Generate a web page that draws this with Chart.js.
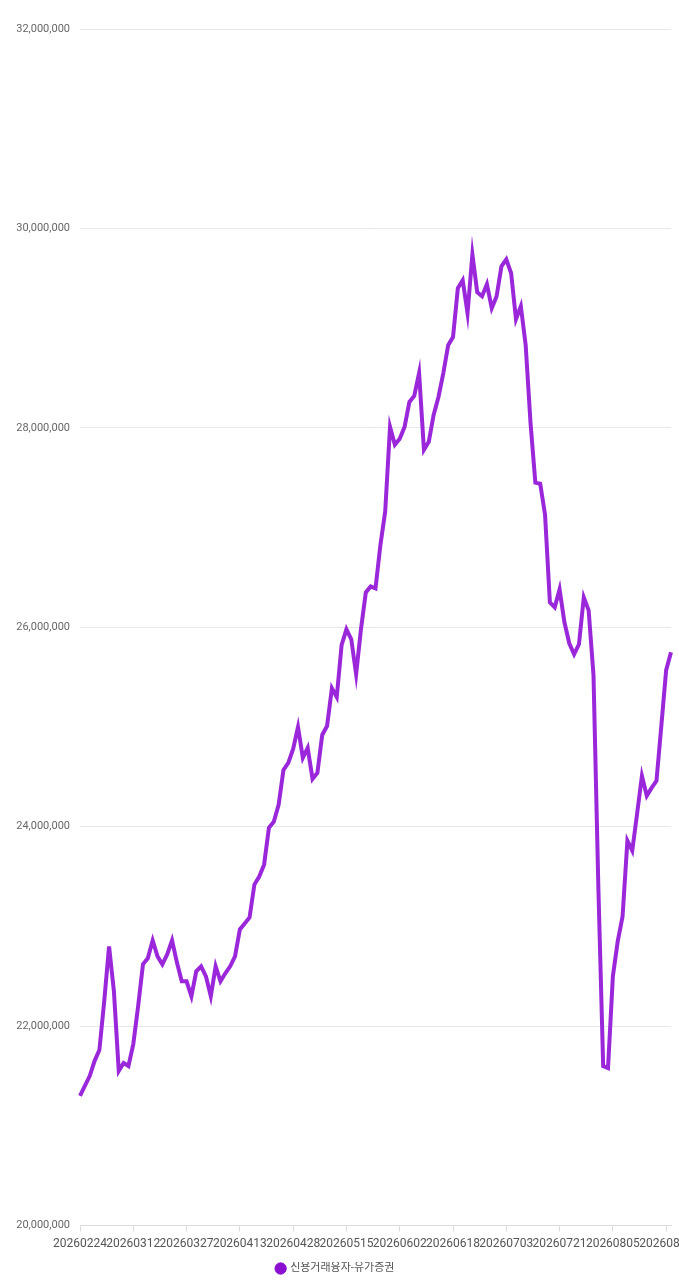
<!DOCTYPE html>
<html>
<head>
<meta charset="utf-8">
<script src="https://cdn.jsdelivr.net/npm/chart.js@4/dist/chart.umd.min.js"></script>
<style>
  html, body { margin: 0; padding: 0; background: #fff; }
  #wrap { width: 679px; height: 1280px; }
</style>
</head>
<body>
<div id="wrap"><canvas id="grafico"></canvas></div>
<script>
// 신용거래융자 - 유가증권 (일별)

const fechas = [
  '20260224', '20260225', '20260226', '20260227', '20260303', '20260304', '20260305', '20260306',
  '20260309', '20260310', '20260311', '20260312', '20260313', '20260316', '20260317', '20260318',
  '20260319', '20260320', '20260323', '20260324', '20260325', '20260326', '20260327', '20260330',
  '20260331', '20260401', '20260402', '20260403', '20260406', '20260407', '20260408', '20260409',
  '20260410', '20260413', '20260414', '20260415', '20260416', '20260417', '20260420', '20260421',
  '20260422', '20260423', '20260424', '20260427', '20260428', '20260429', '20260430', '20260504',
  '20260506', '20260507', '20260508', '20260511', '20260512', '20260513', '20260514', '20260515',
  '20260518', '20260519', '20260520', '20260521', '20260522', '20260526', '20260527', '20260528',
  '20260529', '20260601', '20260602', '20260604', '20260605', '20260608', '20260609', '20260610',
  '20260611', '20260612', '20260615', '20260616', '20260617', '20260618', '20260619', '20260622',
  '20260623', '20260624', '20260625', '20260626', '20260629', '20260630', '20260701', '20260702',
  '20260703', '20260706', '20260707', '20260708', '20260709', '20260710', '20260713', '20260714',
  '20260715', '20260716', '20260720', '20260721', '20260722', '20260723', '20260724', '20260727',
  '20260728', '20260729', '20260730', '20260731', '20260803', '20260804', '20260805', '20260806',
  '20260807', '20260810', '20260811', '20260812', '20260813', '20260814', '20260818', '20260819',
  '20260820', '20260821', '20260824'
];

const valores = [
  21300000, 21400000, 21500000, 21650000, 21760000, 22250000, 22800000, 22350000,
  21550000, 21630000, 21600000, 21820000, 22200000, 22620000, 22680000, 22860000,
  22700000, 22620000, 22720000, 22860000, 22640000, 22450000, 22450000, 22300000,
  22550000, 22600000, 22500000, 22300000, 22600000, 22450000, 22530000, 22600000,
  22700000, 22970000, 23030000, 23090000, 23420000, 23500000, 23620000, 23990000,
  24050000, 24220000, 24570000, 24640000, 24780000, 25000000, 24690000, 24790000,
  24480000, 24540000, 24920000, 25010000, 25390000, 25300000, 25820000, 25980000,
  25880000, 25530000, 25980000, 26350000, 26410000, 26390000, 26820000, 27160000,
  28010000, 27830000, 27890000, 28010000, 28260000, 28320000, 28550000, 27780000,
  27860000, 28130000, 28310000, 28550000, 28830000, 28910000, 29400000, 29480000,
  29150000, 29740000, 29360000, 29320000, 29440000, 29200000, 29320000, 29620000,
  29690000, 29550000, 29090000, 29220000, 28830000, 28050000, 27450000, 27440000,
  27130000, 26250000, 26200000, 26380000, 26050000, 25840000, 25730000, 25830000,
  26300000, 26170000, 25520000, 23400000, 21600000, 21580000, 22500000, 22850000,
  23100000, 23860000, 23760000, 24130000, 24510000, 24310000, 24390000, 24460000,
  25010000, 25570000, 25750000
];

const serie = '신용거래융자-유가증권';
const yMin = 20000000;
const yMax = 32000000;
const yPaso = 2000000;
const pasoEtiqueta = 11; // una etiqueta de fecha cada 11 días

const fuente = "Roboto, 'Noto Sans CJK KR', sans-serif";

function leyendaEtiquetas(chart) {
  const items = Chart.defaults.plugins.legend.labels.generateLabels(chart);
  return items.map(it => ({ ...it, lineWidth: 1, strokeStyle: it.fillStyle }));
}

function dibujarGrafico() {
  const ctx = document.getElementById('grafico').getContext('2d');
  new Chart(ctx, {
    type: 'line',
    data: {
      labels: fechas,
      datasets: [{
        label: serie,
        data: valores,
        borderColor: '#9a27da',
        backgroundColor: '#8a0fd0',
        borderWidth: 4,
        pointRadius: 0,
        pointHoverRadius: 0,
        tension: 0,
        fill: false,
      }]
    },
    options: {
      responsive: true,
      maintainAspectRatio: false,
      animation: false,
      layout: { padding: { top: 29, right: 8, left: 0, bottom: -4 } },
      scales: {
        x: {
          afterFit: (scale) => {
            scale.paddingRight = 0; // la última fecha se corta en el borde, como en el original
            scale.height += 6;
          },
          grid: {
            drawOnChartArea: false,
            drawTicks: true,
            tickLength: 6,
            color: '#dcdcdc',
          },
          border: { color: '#dcdcdc' },
          ticks: {
            autoSkip: false,
            maxRotation: 0,
            minRotation: 0,
            padding: 5,
            color: '#555',
            font: { family: fuente, size: 12 },
            callback: (v, i) => (i % pasoEtiqueta === 0 ? fechas[i] : null),
          },
        },
        y: {
          min: yMin,
          max: yMax,
          afterFit: (scale) => { scale.width = 80; },
          grid: { color: '#e6e6e6', drawTicks: false },
          border: { display: false },
          ticks: {
            stepSize: yPaso,
            padding: 10,
            color: '#666',
            font: { family: fuente, size: 11 },
            callback: (v) => v.toLocaleString('en-US'),
          },
        },
      },
      plugins: {
        legend: {
          position: 'bottom',
          labels: {
            usePointStyle: true,
            pointStyle: 'circle',
            boxWidth: 8,
            boxHeight: 8,
            padding: 1,
            color: '#555',
            font: { family: fuente, size: 11 },
            generateLabels: leyendaEtiquetas,
          },
        },
        tooltip: { enabled: false },
      },
    },
  });
}

dibujarGrafico();
</script>
</body>
</html>
